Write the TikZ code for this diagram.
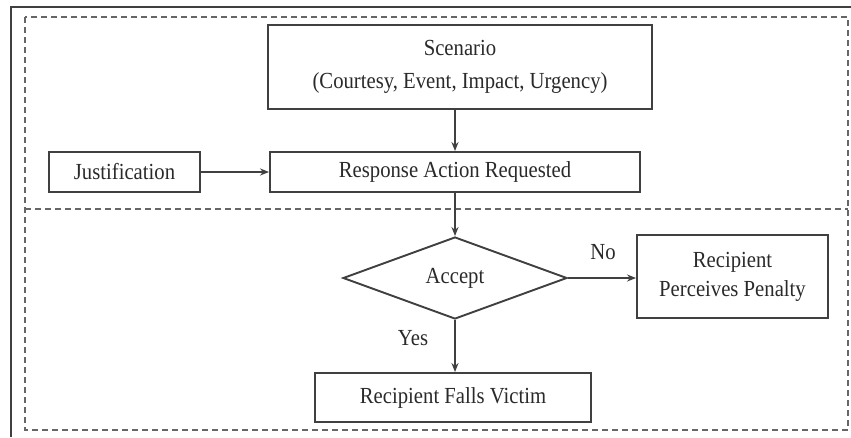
\documentclass[tikz,border=0pt]{standalone}
\usepackage{fontspec}
\setmainfont{Liberation Serif}[FakeStretch=0.9]
\usetikzlibrary{shapes.geometric,arrows.meta}
\definecolor{ink}{HTML}{2A2A2A}
\definecolor{rule}{HTML}{404040}
\tikzset{
  every node/.style={text=ink, font=\fontsize{23}{27}\selectfont},
  stepbox/.style={draw=rule, line width=1.9pt, rectangle, inner sep=0pt, align=center},
  decision/.style={draw=rule, line width=1.9pt, diamond, inner sep=0pt, aspect=2.7,
    minimum width=224pt, minimum height=82pt},
  flow/.style={draw=rule, line width=1.7pt, -{Stealth[length=9pt,width=7pt]}},
  zone/.style={draw=rule!80, line width=1.7pt, dash pattern=on 6pt off 4pt},
}
\begin{document}
\begin{tikzpicture}[x=1pt,y=-1pt]
\useasboundingbox (0,0) rectangle (851,437);
\fill[white] (0,0) rectangle (851,437);

% outer solid frame (only top and left edges fall inside the page)
\draw[rule, line width=2pt] (11,437) -- (11,7) -- (851,7);

% dashed zones
\draw[zone] (25,17) rectangle (848,430);
\draw[zone] (25,209) -- (848,209);

% boxes
\node[stepbox, minimum width=384pt, minimum height=84pt] (scen) at (460,67)
  {Scenario\\[6pt](Courtesy, Event, Impact, Urgency)};
\node[stepbox, minimum width=151pt, minimum height=40pt] (just) at (124.5,172) {Justification};
\node[stepbox, minimum width=370pt, minimum height=40pt] (resp) at (455,172) {Response Action Requested};
\node[decision] (acc) at (455,278) {Accept};
\node[stepbox, minimum width=191pt, minimum height=83pt] (pen) at (732.5,276.5)
  {Recipient\\[2pt]Perceives Penalty};
\node[stepbox, minimum width=276pt, minimum height=49pt] (vic) at (453,397.5) {Recipient Falls Victim};

% connectors
\draw[flow] (resp.north |- scen.south) -- (resp.north);
\draw[flow] (just.east) -- (resp.west);
\draw[flow] (resp.south) -- (acc.north);
\draw[flow] (acc.east) -- (acc.east -| pen.west);
\draw[flow] (acc.south) -- (acc.south |- vic.north);

% branch labels
\node (no) at (603,252) {No};
\node (yes) at (413,338) {Yes};
\end{tikzpicture}
\end{document}
